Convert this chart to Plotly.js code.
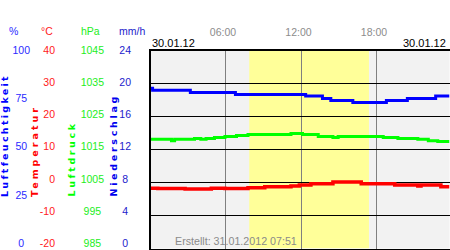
<!DOCTYPE html>
<html><head><meta charset="utf-8">
<script src="https://cdn.plot.ly/plotly-3.0.1.min.js"></script>
<style>html,body{margin:0;padding:0;background:#fff}#chart{width:450px;height:250px}</style>
</head><body><div id="chart"></div>
<script>
// ---- data ----
const DAY = '2012-01-30 ';
const humTimes   = ['00:00','00:10','03:10','06:45','12:20','13:40','14:20','16:05','18:45','20:25','22:40','23:46'];
const humValues  = [80.4, 79.4, 78.2, 77.2, 76.3, 75.1, 74.0, 73.0, 74.0, 75.1, 76.3, 76.3];
const tempTimes  = ['00:00','00:35','02:45','04:50','05:55','07:45','09:05','11:10','11:50','12:45','14:30','16:45','19:25','21:15','21:30','23:05','23:46'];
const tempValues = [-2.9, -3.0, -3.2, -2.9, -3.0, -2.8, -2.5, -2.2, -1.9, -1.5, -1.0, -1.5, -1.9, -2.2, -1.9, -2.5, -2.5];
const presTimes  = ['00:00','01:40','01:55','03:30','04:00','04:25','05:05','05:55','06:50','07:45','11:10','12:05','13:20','14:30','14:55','18:30','19:40','21:15','22:05','22:50','23:46'];
const presValues = [1017.3,1016.9,1017.3,1017.6,1017.3,1017.6,1017.9,1018.2,1018.5,1018.8,1019.1,1018.8,1018.2,1017.9,1018.2,1017.9,1017.6,1017.3,1016.9,1016.6,1016.6];
const rainTimes  = ['00:00','06:00','12:00','18:00'];
const rainValues = [0, 0, 0, 0];

const humTicks  = [0, 25, 50, 75, 100];
const tempTicks = [-20, -10, 0, 10, 20, 30, 40];
const presTicks = [985, 995, 1005, 1015, 1025, 1035, 1045];
const rainTicks = [0, 4, 8, 12, 16, 20, 24];
const timeTicks = ['06:00', '12:00', '18:00'];
const timeRange = ['00:00', '23:46'];
const daylight  = ['07:51', '17:22'];
const unitLabels  = ['%', '°C', 'hPa', 'mm/h'];
const axisTitles  = ['Luftfeuchtigkeit', 'Temperatur', 'Luftdruck', 'Niederschlag'];
const dateLeft  = '30.01.12';
const dateRight = '30.01.12';
const createdText = 'Erstellt: 31.01.2012 07:51';

// ---- styling ----
const W = 450, H = 250;
const FONT = 'Liberation Sans, Arial, sans-serif';
const BLUE = '#0000ff', RED = '#ff0000', GREEN = '#00ff00';
const colHum = '#2a2aff', colTemp = '#ff1a1a', colPres = '#22ee22', colRain = '#2222cc';
const px = v => v / W;
const py = v => (H - v) / H;
const t = s => DAY + s;

// plot area pixels
const L = 150.5, R = 449.5, TOP = 50.5, BOT = 248.5, LABBOT = 243;
function rangeFor(lo, hi) {
  const per = (hi - lo) / (LABBOT - TOP);
  return [lo - (BOT - LABBOT) * per, hi];
}
function pad(arr) {
  const s = arr.map(String);
  const m = Math.max(...s.map(x => x.length));
  return s.map(x => x + '\u00a0'.repeat(m - x.length));
}

const traces = [
  {x: rainTimes.map(t), y: rainValues, yaxis: 'y5', type: 'bar',
   marker: {color: BLUE, line: {width: 0}}, hoverinfo: 'skip'},
  {x: humTimes.map(t), y: humValues, yaxis: 'y2', type: 'scatter', mode: 'lines',
   line: {shape: 'hv', color: BLUE, width: 3}, hoverinfo: 'skip'},
  {x: presTimes.map(t), y: presValues, yaxis: 'y4', type: 'scatter', mode: 'lines',
   line: {shape: 'hv', color: GREEN, width: 3}, hoverinfo: 'skip'},
  {x: tempTimes.map(t), y: tempValues, yaxis: 'y3', type: 'scatter', mode: 'lines',
   line: {shape: 'hv', color: RED, width: 3.5}, hoverinfo: 'skip'}
];

function labelAxis(pos, ticks, text, color) {
  return {
    overlaying: 'y', anchor: 'free', position: px(pos), side: 'left',
    range: rangeFor(ticks[0], ticks[ticks.length - 1]),
    tickmode: 'array', tickvals: ticks, ticktext: text,
    showgrid: false, zeroline: false, showline: false, ticks: '',
    ticklabelstandoff: 0,
    tickfont: {family: FONT, size: 10.5, color: color}
  };
}

const annotations = [];
const unitX = [13.5, 46.5, 90, 132];
const unitCol = [colHum, colTemp, colPres, colRain];
unitLabels.forEach((u, i) => annotations.push({
  text: u, x: px(unitX[i]), y: py(30.5), xref: 'paper', yref: 'paper',
  xanchor: 'center', yanchor: 'middle', showarrow: false,
  font: {family: FONT, size: 10.5, color: unitCol[i]}
}));
const titleX = [4.5, 34, 71, 113];
const titleCol = [BLUE, RED, GREEN, '#0000ee'];
const titleLS = [2.3, 3.0, 2.6, 2.7];
axisTitles.forEach((s, i) => annotations.push({
  text: '<span style="letter-spacing:' + titleLS[i] + 'px">' + s + '</span>',
  textangle: -90, x: px(titleX[i]), y: py(197), xref: 'paper', yref: 'paper',
  xanchor: 'center', yanchor: 'bottom', showarrow: false, borderpad: 0, borderwidth: 0,
  font: {family: 'DejaVu Sans', size: 9.5, weight: 700, color: titleCol[i]}
}));
annotations.push({text: dateLeft, x: px(150), y: py(43.3), xref: 'paper', yref: 'paper',
  xanchor: 'left', yanchor: 'middle', showarrow: false, font: {family: FONT, size: 11, color: '#000'}});
annotations.push({text: dateRight, x: px(448), y: py(43.3), xref: 'paper', yref: 'paper',
  xanchor: 'right', yanchor: 'middle', showarrow: false, font: {family: FONT, size: 11, color: '#000'}});
annotations.push({text: createdText, x: px(236), y: py(240.7), xref: 'paper', yref: 'paper',
  xanchor: 'center', yanchor: 'middle', showarrow: false, font: {family: FONT, size: 10.7, color: '#8a8a8a'}});

const layout = {
  width: W, height: H,
  margin: {l: 0, r: 0, t: 0, b: 0, pad: 0},
  paper_bgcolor: '#ffffff', plot_bgcolor: '#f2f2f2',
  showlegend: false,
  font: {family: FONT},
  xaxis: {
    type: 'date', domain: [px(L), px(R)], anchor: 'y', side: 'top',
    range: timeRange.map(t),
    tickmode: 'array', tickvals: timeTicks.map(t), ticktext: timeTicks,
    showgrid: true, gridcolor: '#808080', gridwidth: 1,
    showline: true, mirror: true, linecolor: '#000', linewidth: 1.5,
    zeroline: false, ticks: '', ticklabelstandoff: 9, ticklabelshift: -3,
    tickfont: {family: FONT, size: 10.5, color: '#8c8c8c'}
  },
  yaxis: {
    domain: [py(BOT), py(TOP)], anchor: 'x',
    range: [rainTicks[0], rainTicks[rainTicks.length - 1]],
    tickmode: 'array', tickvals: rainTicks, showticklabels: false,
    showgrid: true, gridcolor: '#000', gridwidth: 1,
    showline: true, mirror: true, linecolor: '#000', linewidth: 1.5,
    zeroline: false, ticks: ''
  },
  yaxis2: labelAxis(30, humTicks, pad(humTicks), colHum),
  yaxis3: labelAxis(55, tempTicks, tempTicks.map(String), colTemp),
  yaxis4: labelAxis(104, presTicks, pad(presTicks), colPres),
  yaxis5: labelAxis(131, rainTicks, pad(rainTicks), colRain),
  shapes: [{
    type: 'rect', xref: 'x', yref: 'y', layer: 'below',
    x0: t(daylight[0]), x1: t(daylight[1]),
    y0: rainTicks[0], y1: rainTicks[rainTicks.length - 1],
    fillcolor: '#ffff99', line: {width: 0}
  }],
  annotations: annotations
};

Plotly.newPlot('chart', traces, layout, {staticPlot: true, displayModeBar: false});
</script>
</body></html>
